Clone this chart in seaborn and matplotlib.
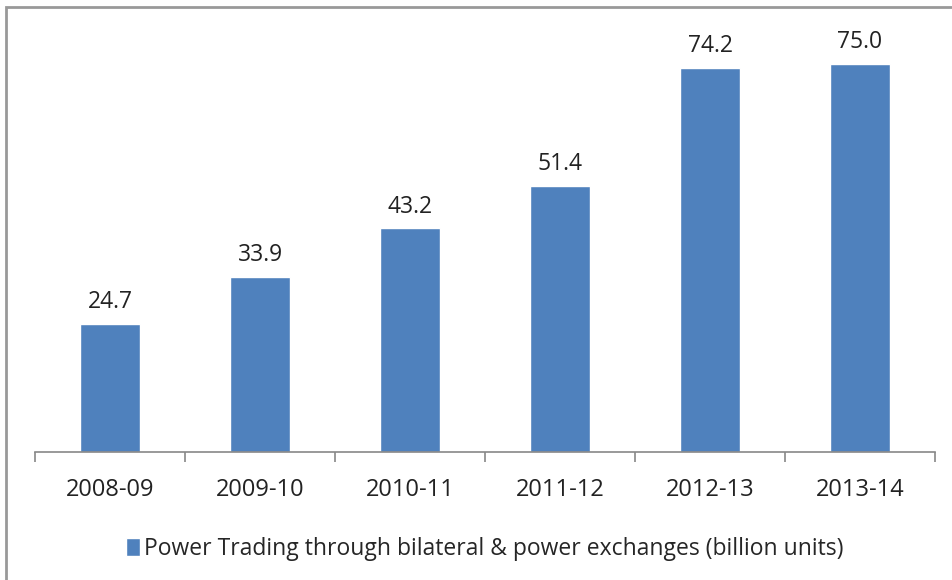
import matplotlib
matplotlib.use("Agg")
import matplotlib.pyplot as plt
import seaborn as sns
import numpy as np
from matplotlib.patches import Rectangle

years = ["2008-09", "2009-10", "2010-11", "2011-12", "2012-13", "2013-14"]
trading = [24.7, 33.9, 43.2, 51.4, 74.2, 75.0]
series_name = "Power Trading through bilateral & power exchanges (billion units)"

sns.set_style("white")
plt.rcParams['font.family'] = ['Open Sans', 'DejaVu Sans']

fig = plt.figure(figsize=(9.52, 5.8), dpi=100)
ax = fig.add_axes([0.0368, 0.2207, 0.9454, 0.7138])

sns.barplot(x=years, y=trading, color="#4F81BD", width=0.4, saturation=1,
            label=series_name, ax=ax)

ax.bar_label(ax.containers[0], fmt="%.1f", padding=7, fontsize=16.5, color="#222222")

ax.set_ylim(0, 80)
ax.set_xlim(-0.5, len(years) - 0.5)
ax.set_yticks([])
for s in ["left", "right", "top"]:
    ax.spines[s].set_visible(False)
ax.spines["bottom"].set_color("#888888")
ax.spines["bottom"].set_linewidth(1.2)

# tick marks between categories
ax.set_xticks(np.arange(-0.5, len(years)), minor=True)
ax.tick_params(axis="x", which="minor", bottom=True, length=7, color="#888888",
               width=1.2, direction="out")
ax.tick_params(axis="x", which="major", length=0, labelsize=17, pad=19,
               labelcolor="#222222")

ax.legend(loc="upper center", bbox_to_anchor=(0.5, -0.155), frameon=False,
          fontsize=16.5, handlelength=0.6, handleheight=0.8, handletextpad=0.2)

# chart frame
fig.patches.append(Rectangle((6 / 952, -0.05), 1.1, 1 - 7 / 580 + 0.05,
                             transform=fig.transFigure, fill=False,
                             edgecolor="#999999", linewidth=2))

fig.savefig("out.png", dpi=100)
